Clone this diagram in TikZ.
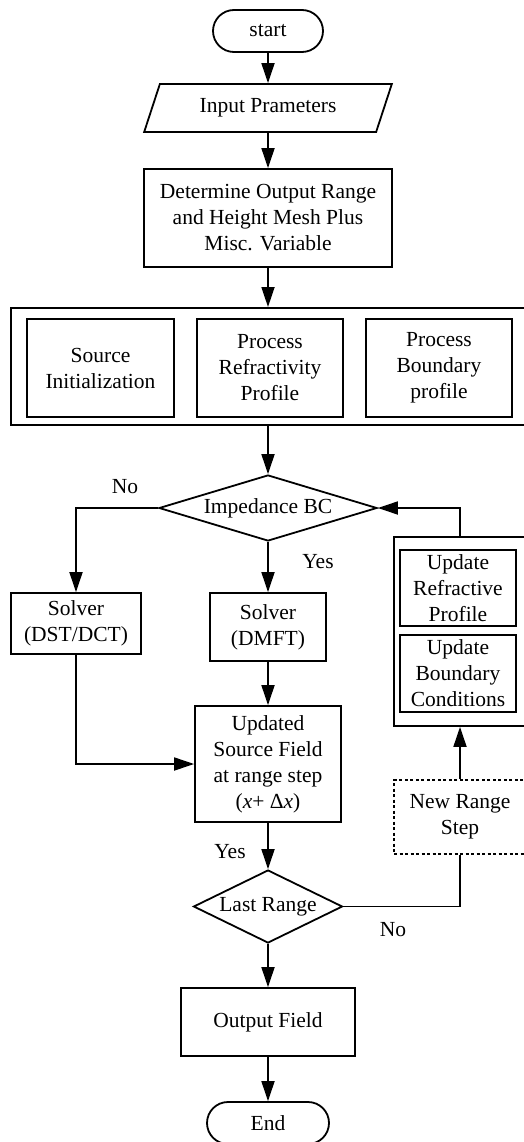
\documentclass[tikz,border=0pt]{standalone}
\usepackage{fontspec}
\setmainfont{Liberation Serif}
\usetikzlibrary{shapes.geometric,arrows.meta}

\tikzset{
    box/.style={draw, line width=1.8pt, align=center, inner sep=0pt},
    arr/.style={line width=1.8pt, -{Triangle[length=20pt,width=13pt]}},
    lnk/.style={line width=1.8pt},
}

\begin{document}
\begin{tikzpicture}[x=1pt, y=-1pt, font=\fontsize{21.5}{26}\selectfont]
    \useasboundingbox (0,0) rectangle (524,1142);

    % Start and input
    \node[box, rounded corners=21pt, minimum width=110pt, minimum height=42pt] (start) at (268,31) {start};
    \node[box, trapezium, trapezium stretches=true, trapezium left angle=62, trapezium right angle=118,
          minimum width=248pt, minimum height=48pt] (input) at (268,108) {Input Prameters};
    \node[box, minimum width=248pt, minimum height=98pt] (det) at (268,218)
        {Determine Output Range\\and Height Mesh Plus\\Misc. Variable};

    % Pre-processing group
    \node[box, line width=2pt, minimum width=514pt, minimum height=117pt] (grp) at (268,366.5) {};
    \node[box, minimum width=147pt, minimum height=98pt] (src) at (100.5,368) {Source\\Initialization};
    \node[box, minimum width=146pt, minimum height=98pt] (refr) at (270,368) {Process\\Refractivity\\Profile};
    \node[box, minimum width=146pt, minimum height=98pt] (bnd) at (439,368) {Process\\Boundary\\profile};

    % Boundary condition check
    \node[box, diamond, aspect=3.3, minimum width=218pt, minimum height=66pt] (imp) at (268,508) {Impedance BC};
    \node (noA) at (125,487) {No};
    \node (yesA) at (318,562) {Yes};

    % Solvers
    \node[box, minimum width=130pt, minimum height=61pt] (slvA) at (76,623.5) {Solver\\(DST/DCT)};
    \node[box, minimum width=116pt, minimum height=68pt] (slvB) at (268,627) {Solver\\(DMFT)};
    \node[box, minimum width=146pt, minimum height=116pt] (upd) at (268,764)
        {Updated\\Source Field\\at range step\\(\textit{x}+ Δ\textit{x})};

    % Update group and new range step
    \node[box, minimum width=132pt, minimum height=189pt] (rgrp) at (460,631.5) {};
    \node[box, minimum width=116pt, minimum height=76pt] (uref) at (458,588) {Update\\Refractive\\Profile};
    \node[box, minimum width=116pt, minimum height=77pt] (ubnd) at (458,673.5) {Update\\Boundary\\Conditions};
    \node[box, dash pattern=on 3pt off 2.5pt, minimum width=132pt, minimum height=74pt] (nstep) at (460,817)
        {New Range\\Step};

    % Last range check and output
    \node[box, diamond, aspect=2, minimum width=149pt, minimum height=73pt] (last) at (268,906.5) {Last Range};
    \node (yesB) at (230,852) {Yes};
    \node (noB) at (393,930) {No};
    \node[box, minimum width=174pt, minimum height=68pt] (out) at (268,1022) {Output Field};
    \node[box, rounded corners=21pt, minimum width=122pt, minimum height=42pt] (stop) at (268,1123) {End};

    % Connectors
    \draw[arr] (start) -- (input);
    \draw[arr] (input) -- (det);
    \draw[arr] (det) -- (grp);
    \draw[arr] (grp) -- (imp);
    \draw[arr] (imp.west) -| (slvA.north);
    \draw[arr] (imp.south) -- (slvB.north);
    \draw[arr] (slvA.south) |- (upd.west);
    \draw[arr] (slvB) -- (upd);
    \draw[arr] (upd.south) -- (last.north);
    \draw[arr] (last.south) -- (out.north);
    \draw[arr] (out) -- (stop);
    \draw[lnk] (last.east) -| (nstep.south);
    \draw[arr] (nstep) -- (rgrp);
    \draw[arr] (rgrp.north) |- (imp.east);
\end{tikzpicture}
\end{document}
